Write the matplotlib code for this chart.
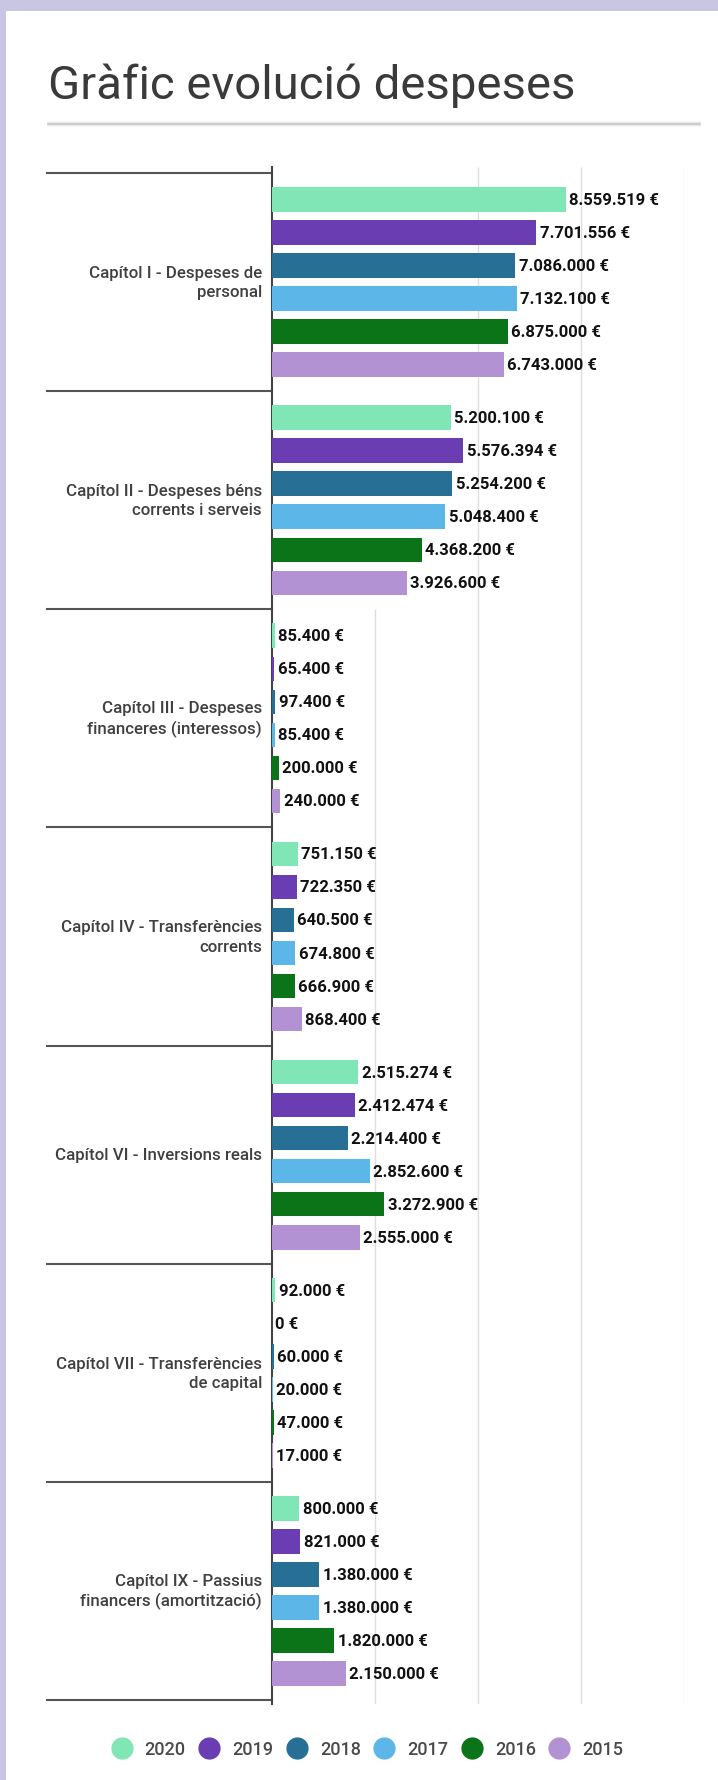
import matplotlib.pyplot as plt
from matplotlib.lines import Line2D
from matplotlib.patches import Rectangle

# capítols (categories)
capitols = [
    "Capítol I - Despeses de\npersonal",
    "Capítol II - Despeses béns\ncorrents i serveis",
    "Capítol III - Despeses\nfinanceres (interessos)",
    "Capítol IV - Transferències\ncorrents",
    "Capítol VI - Inversions reals",
    "Capítol VII - Transferències\nde capital",
    "Capítol IX - Passius\nfinancers (amortització)",
]

anys = ["2020", "2019", "2018", "2017", "2016", "2015"]

d2020 = [8559519, 5200100, 85400, 751150, 2515274, 92000, 800000]
d2019 = [7701556, 5576394, 65400, 722350, 2412474, 0, 821000]
d2018 = [7086000, 5254200, 97400, 640500, 2214400, 60000, 1380000]
d2017 = [7132100, 5048400, 85400, 674800, 2852600, 20000, 1380000]
d2016 = [6875000, 4368200, 200000, 666900, 3272900, 47000, 1820000]
d2015 = [6743000, 3926600, 240000, 868400, 2555000, 17000, 2150000]

series = [d2020, d2019, d2018, d2017, d2016, d2015]
colors = ["#80e6b6", "#6a3db3", "#276f95", "#5cb6e8", "#0b7318", "#b292d2"]

W, H = 718, 1781
SEC = 6.6  # height of one capítol block in slot units


def euro(v):
    return f"{v:,}".replace(",", ".") + " €"


fig = plt.figure(figsize=(W / 100, H / 100), dpi=100)
fig.patch.set_facecolor("#c9c6e4")
fig.add_artist(Rectangle((6 / W, 0), 1, 1 - 12 / H, transform=fig.transFigure,
                         facecolor="white", edgecolor="none", zorder=0))

# title + soft shadow line below it
fig.text(48 / W, 1 - 99 / H, "Gràfic evolució despeses", fontfamily="Roboto",
         fontsize=34, color="#3a3a3a", va="baseline", ha="left")
for off, a in [(-2, 0.08), (-1, 0.2), (0, 0.45), (1, 0.2), (2, 0.08)]:
    fig.add_artist(Line2D([48 / W, 700 / W], [1 - (125 + off) / H] * 2,
                          transform=fig.transFigure, color="#9a9a9a",
                          alpha=a, lw=1.2))

ax = fig.add_axes([272 / W, 1 - 1705 / H, (684 - 272) / W, (1705 - 168) / H])
n = len(capitols)
ax.set_xlim(0, 12000000)
ax.set_ylim(n * SEC + 0.12, -0.18)

label_font = ["Roboto", "DejaVu Sans"]

for j, (vals, col) in enumerate(zip(series, colors)):
    ys = [k * SEC + 0.8 + j for k in range(n)]
    ax.barh(ys, vals, height=0.74, color=col, zorder=3)
    for y, v in zip(ys, vals):
        ax.text(v + 100000, y, euro(v), va="center", ha="left", fontsize=12,
                fontweight="bold", family=label_font, color="#111111", zorder=4)

# grid lines (the 3M line only shows from the third block down)
ax.vlines([6000000, 9000000, 12000000], -0.18, n * SEC + 0.12,
          color="#dedede", lw=1, zorder=1)
ax.vlines([3000000], 2 * SEC, n * SEC + 0.12, color="#dedede", lw=1, zorder=1)

# block separators and capítol labels
for k in range(n + 1):
    ax.plot([-0.546, 0], [k * SEC, k * SEC], transform=ax.get_yaxis_transform(),
            color="#555555", lw=1.5, clip_on=False, zorder=2)
for k, lab in enumerate(capitols):
    ax.text(-0.024, k * SEC + SEC / 2, lab, transform=ax.get_yaxis_transform(),
            ha="right", va="center", fontsize=12.2, fontweight="medium",
            family=label_font, color="#404040", linespacing=1.35)

ax.set_xticks([])
ax.set_yticks([])
for s in ["top", "right", "bottom"]:
    ax.spines[s].set_visible(False)
ax.spines["left"].set_color("#444444")
ax.spines["left"].set_linewidth(1.5)
ax.set_facecolor("none")

handles = [Line2D([], [], marker="o", linestyle="none", markersize=15,
                  markerfacecolor=c, markeredgecolor=c) for c in colors]
fig.legend(handles, anys, loc="center", bbox_to_anchor=(368 / W, 1 - 1750 / H),
           ncol=6, frameon=False, handlelength=1.0, handletextpad=0.78,
           columnspacing=0.8, prop={"family": label_font, "size": 13,
                                    "weight": "medium"},
           labelcolor="#4a4a4a")

fig.savefig("out.png", dpi=100, facecolor=fig.get_facecolor())
